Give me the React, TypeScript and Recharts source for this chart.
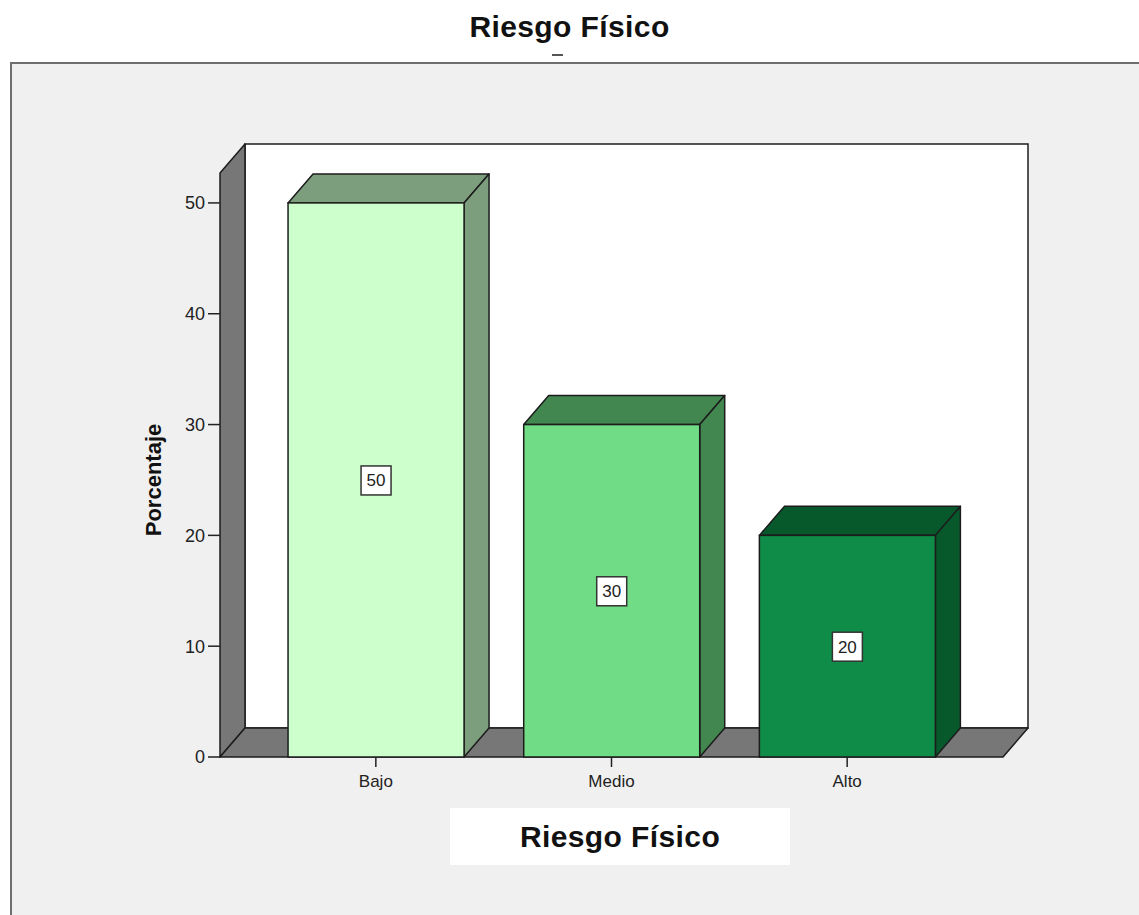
import React from "react";
import { BarChart, Bar, XAxis, YAxis, LabelList, ReferenceArea } from "recharts";

// datos
const categorias = ["Bajo", "Medio", "Alto"];
const porcentajes = [50, 30, 20];
const ticksY = [0, 10, 20, 30, 40, 50];
const Y_MAX = 52.7;

// colores por categoria (frente / lado y tapa)
const colorFrente = ["#ccffcc", "#70dc85", "#0f8c48"];
const colorLado = ["#7d9e7d", "#42874f", "#07582b"];

const DX = 25;
const DY = 29;
const PAD = 38;
const BORDE = "#1c1c1c";
const FONT = "Arial, 'Liberation Sans', sans-serif";

const data = categorias.map((c, i) => ({ categoria: c, valor: porcentajes[i] }));

function Bar3D(props: any) {
  const { x, y, width, height } = props;
  let i = categorias.indexOf(props.payload?.categoria);
  if (i < 0) i = props.index ?? 0;
  const lado = colorLado[i];
  return (
    <g>
      <polygon
        points={`${x},${y} ${x + DX},${y - DY} ${x + width + DX},${y - DY} ${x + width},${y}`}
        fill={lado}
        stroke={BORDE}
        strokeWidth={1.5}
        strokeLinejoin="round"
      />
      <polygon
        points={`${x + width},${y} ${x + width + DX},${y - DY} ${x + width + DX},${y + height - DY} ${x + width},${y + height}`}
        fill={lado}
        stroke={BORDE}
        strokeWidth={1.5}
        strokeLinejoin="round"
      />
      <rect x={x} y={y} width={width} height={height} fill={colorFrente[i]} stroke={BORDE} strokeWidth={1.5} />
    </g>
  );
}

function Paredes(props: any) {
  const { x, y, width, height } = props;
  const x0 = x - PAD;
  const x1 = x + width + PAD;
  const yb = y + height;
  return (
    <g>
      <rect x={x0 + DX} y={y - DY} width={x1 - x0} height={height} fill="#ffffff" stroke={BORDE} strokeWidth={1.5} />
      <polygon
        points={`${x0},${yb} ${x0},${y} ${x0 + DX},${y - DY} ${x0 + DX},${yb - DY}`}
        fill="#777777"
        stroke={BORDE}
        strokeWidth={1.5}
        strokeLinejoin="round"
      />
      <polygon
        points={`${x0},${yb} ${x0 + DX},${yb - DY} ${x1 + DX},${yb - DY} ${x1},${yb}`}
        fill="#777777"
        stroke={BORDE}
        strokeWidth={1.5}
        strokeLinejoin="round"
      />
    </g>
  );
}

function Etiqueta(props: any) {
  const { x, y, width, height, value } = props;
  const cx = x + width / 2;
  const cy = y + height / 2;
  return (
    <g>
      <rect x={cx - 15} y={cy - 14} width={30} height={29} fill="#ffffff" stroke="#333" strokeWidth={1.5} />
      <text x={cx} y={cy + 1} textAnchor="middle" dominantBaseline="central" fontSize={17} fontFamily={FONT} fill="#222">
        {value}
      </text>
    </g>
  );
}

function EtiquetaY(props: any) {
  const vb = props.viewBox || { y: 173, height: 584 };
  const cx = 153;
  const cy = vb.y + vb.height / 2 + 15;
  return (
    <text
      x={cx}
      y={cy}
      transform={`rotate(-90 ${cx} ${cy})`}
      textAnchor="middle"
      dominantBaseline="central"
      fontSize={22}
      fontWeight="bold"
      fontFamily={FONT}
      fill="#111"
    >
      Porcentaje
    </text>
  );
}

export default function App() {
  return (
    <div style={{ position: "absolute", left: 0, top: 0, width: 1139, height: 915, overflow: "hidden", background: "#fff", fontFamily: FONT }}>
      <div style={{ position: "absolute", left: 0, top: 9, width: 1139, textAlign: "center", fontSize: 30, fontWeight: "bold", lineHeight: "36px", letterSpacing: 0.4, color: "#111" }}>
        Riesgo Físico
      </div>
      <div style={{ position: "absolute", left: 552, top: 54, width: 11, height: 2, background: "#555" }} />
      <div
        style={{
          position: "absolute",
          left: 10,
          top: 62,
          width: 1127,
          height: 851,
          background: "#f0f0f0",
          borderTop: "2px solid #6e6e6e",
          borderLeft: "2px solid #6e6e6e",
        }}
      />
      <div
        style={{
          position: "absolute",
          left: 450,
          top: 808,
          width: 340,
          height: 57,
          background: "#fff",
          textAlign: "center",
          lineHeight: "57px",
          fontSize: 30,
          fontWeight: "bold",
          letterSpacing: 0.4,
          color: "#111",
        }}
      >
        Riesgo Físico
      </div>
      <div style={{ position: "absolute", left: 0, top: 0 }}>
        <BarChart
          width={1139}
          height={915}
          data={data}
          margin={{ top: 173, right: 136, bottom: 118, left: 160 }}
          barCategoryGap="12.75%"
        >
          <ReferenceArea y1={0} y2={Y_MAX} shape={Paredes} ifOverflow="visible" />
          <XAxis
            dataKey="categoria"
            height={40}
            padding={{ left: PAD, right: PAD }}
            axisLine={false}
            tickSize={10}
            tickMargin={8}
            tickLine={{ stroke: "#222", strokeWidth: 1.5 }}
            tick={{ fill: "#222", fontSize: 17, fontFamily: FONT }}
          />
          <YAxis
            type="number"
            domain={[0, Y_MAX]}
            ticks={ticksY}
            width={60}
            axisLine={false}
            tickSize={12}
            tickMargin={3}
            tickLine={{ stroke: "#222", strokeWidth: 1.5 }}
            tick={{ fill: "#222", fontSize: 18, fontFamily: FONT }}
            label={EtiquetaY}
          />
          <Bar dataKey="valor" shape={Bar3D} isAnimationActive={false}>
            <LabelList dataKey="valor" content={Etiqueta} />
          </Bar>
        </BarChart>
      </div>
    </div>
  );
}
